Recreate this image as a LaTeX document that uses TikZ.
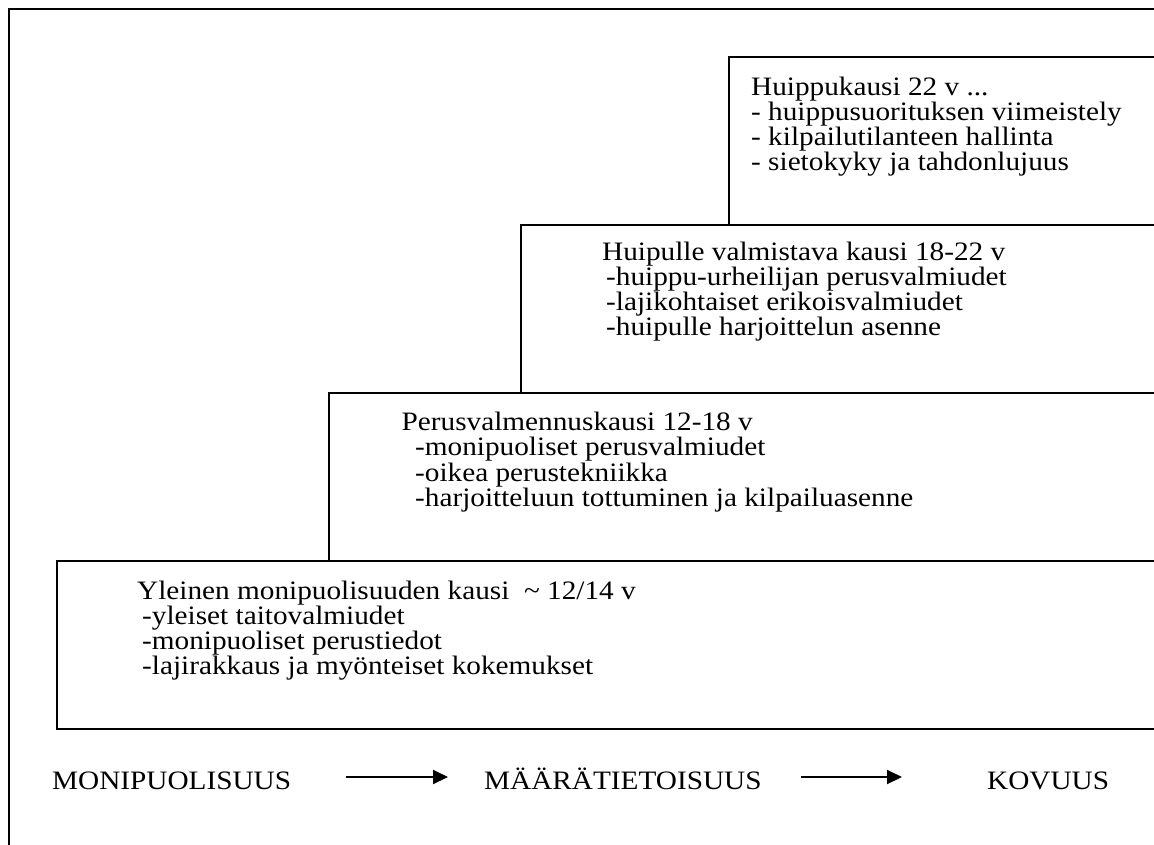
\documentclass[tikz,border=0pt]{standalone}
\usepackage{fontspec}
\setmainfont[FakeStretch=1.1]{Liberation Serif}
\usetikzlibrary{arrows.meta}
\begin{document}
\begin{tikzpicture}[x=1pt,y=-1pt,
  frame/.style={line width=2pt,draw=black},
  txt/.style={anchor=base west,inner sep=0pt,font=\fontsize{26.6}{25}\selectfont},
  arr/.style={line width=2pt,-{Triangle[length=15pt,width=14pt]}}]
\useasboundingbox (0,0) rectangle (1154,844);
\clip (0,0) rectangle (1154,844);
\fill[white] (0,0) rectangle (1154,844);

% outer frame, open to the right and bottom
\draw[frame] (1200,9) -- (9,9) -- (9,900);

% the four stepped stages
\draw[frame] (1200,57) -- (729,57) -- (729,225) -- (1200,225);
\draw[frame] (1200,225) -- (521,225) -- (521,393) -- (1200,393);
\draw[frame] (1200,393) -- (329,393) -- (329,561) -- (1200,561);
\draw[frame] (1200,561) -- (57,561) -- (57,729) -- (1200,729);

% stage 4
\node[txt] (s4h) at (751,95) {Huippukausi 22 v ...};
\node[txt] (s4a) at (751,120.5) {- huippusuorituksen viimeistely};
\node[txt] (s4b) at (751,145.5) {- kilpailutilanteen hallinta};
\node[txt] (s4c) at (751,170.5) {- sietokyky ja tahdonlujuus};

% stage 3
\node[txt] (s3h) at (602,260) {Huipulle valmistava kausi 18-22 v};
\node[txt] (s3a) at (606,285.5) {-huippu-urheilijan perusvalmiudet};
\node[txt] (s3b) at (606,310.5) {-lajikohtaiset erikoisvalmiudet};
\node[txt] (s3c) at (606,335.5) {-huipulle harjoittelun asenne};

% stage 2
\node[txt] (s2h) at (401.5,430) {Perusvalmennuskausi 12-18 v};
\node[txt] (s2a) at (415,455.5) {-monipuoliset perusvalmiudet};
\node[txt] (s2b) at (415,481) {-oikea perustekniikka};
\node[txt] (s2c) at (415,506.5) {-harjoitteluun tottuminen ja kilpailuasenne};

% stage 1
\node[txt] (s1h) at (137,599) {Yleinen monipuolisuuden kausi\ \ \textasciitilde\ 12/14 v};
\node[txt] (s1a) at (142,624) {-yleiset taitovalmiudet};
\node[txt] (s1b) at (142,649) {-monipuoliset perustiedot};
\node[txt] (s1c) at (142,674.5) {-lajirakkaus ja myönteiset kokemukset};

% progression along the bottom
\node[txt] (mono) at (52,789) {MONIPUOLISUUS};
\node[txt] (maara) at (484,789) {MÄÄRÄTIETOISUUS};
\node[txt] (kovuus) at (987,789) {KOVUUS};
\draw[arr,shorten <=55pt,shorten >=36pt] ([yshift=12pt]mono.base east) -- ([yshift=12pt]maara.base west);
\draw[arr,shorten <=39pt,shorten >=85pt] ([yshift=12pt]maara.base east) -- ([yshift=12pt]kovuus.base west);
\end{tikzpicture}
\end{document}
